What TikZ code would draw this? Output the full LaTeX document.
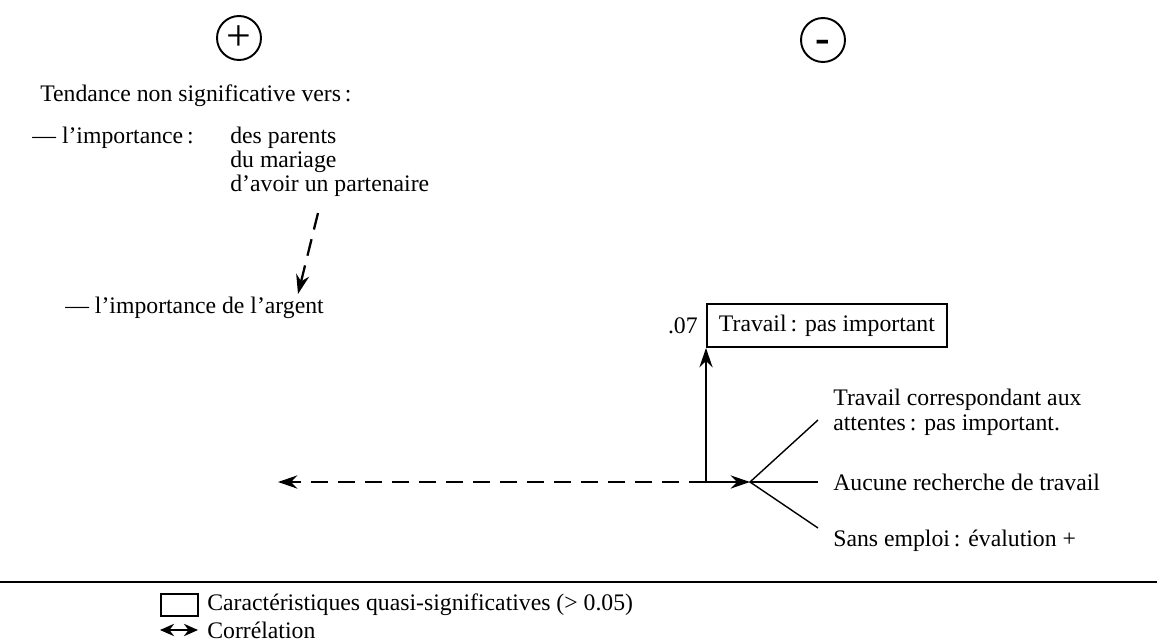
\documentclass[tikz,border=0pt]{standalone}
\usepackage{fontspec}
\setmainfont{Liberation Serif}
\usetikzlibrary{arrows.meta}
\begin{document}
\begin{tikzpicture}[x=0.02cm, y=-0.02cm, >={Stealth[length=11pt,width=7.5pt]},
  every node/.style={font=\fontsize{13.5}{16}\selectfont},
  txt/.style={anchor=west, inner sep=0pt},
  sign/.style={circle, draw, line width=1.1pt, minimum size=0.88cm, inner sep=0pt,
    font=\fontsize{25}{25}\selectfont},
  cadre/.style={draw, line width=1.1pt, inner xsep=0.24cm, minimum height=0.86cm},
  trait/.style={line width=1.1pt},
  dashline/.style={line width=1.3pt, dash pattern=on 0.34cm off 0.2cm}]
\useasboundingbox (0,0) rectangle (1157,643);

% les deux poles
\node[sign] (plus) at (239,38) {+};
\node[sign] (minus) at (823,40) {\vphantom{+}\textbf{-}};

% tendance (+)
\node[txt] (tend) at (40,96) {Tendance non significative vers\,:};
\node[txt] (imp) at (32,138) {--- l'importance\,:};
\node[txt] (parents) at (230,138) {des parents};
\node[txt] (mariage) at (230,162) {du mariage};
\node[txt] (avoir) at (230,186) {d'avoir un partenaire};
\node[txt] (argent) at (65,308) {--- l'importance de l'argent};
\coordinate (a1) at (318,213);
\coordinate (a2) at (298,294);
\draw[->, dashline] (a1) -- (a2);

% travail (-)
\node[cadre, anchor=south west] (trav) at (706,348) {Travail\,: pas important};
\node[txt, anchor=east] (p07) at (698,326) {.07};

\coordinate (j) at (706,482);
\coordinate (fan) at (750,482);
\coordinate (gauche) at (278,482);
\draw[->, trait] (j) -- (trav.south west);
\draw[->, dashline] (j) -- (gauche);
\draw[->, trait] (j) -- (fan);

\node[txt] (corr) at (833,400) {Travail correspondant aux};
\node[txt] (att) at (833,425) {attentes\,: pas important.};
\node[txt] (auc) at (833,482) {Aucune recherche de travail};
\node[txt] (sans) at (833,541) {Sans emploi\,: évalution +};
\coordinate (f1) at (818,420);
\coordinate (f2) at (818,482);
\coordinate (f3) at (818,528);
\draw[thick] (f1) -- (fan) -- (f3);
\draw[thick] (fan) -- (f2);

% legende
\coordinate (r1) at (0,582);
\coordinate (r2) at (1157,582);
\draw[line width=1.2pt] (r1) -- (r2);
\node[draw, line width=1.1pt, minimum width=0.74cm, minimum height=0.44cm, anchor=west] (lbox) at (160,605) {};
\node[txt] (lq) at (207,605) {Caractéristiques quasi-significatives (> 0.05)};
\coordinate (c1) at (160,630);
\coordinate (c2) at (198,630);
\draw[{Stealth[length=8pt,width=7pt]}-{Stealth[length=8pt,width=7pt]}, trait] (c1) -- (c2);
\node[txt] (lc) at (207,630) {Corrélation};
\end{tikzpicture}
\end{document}
